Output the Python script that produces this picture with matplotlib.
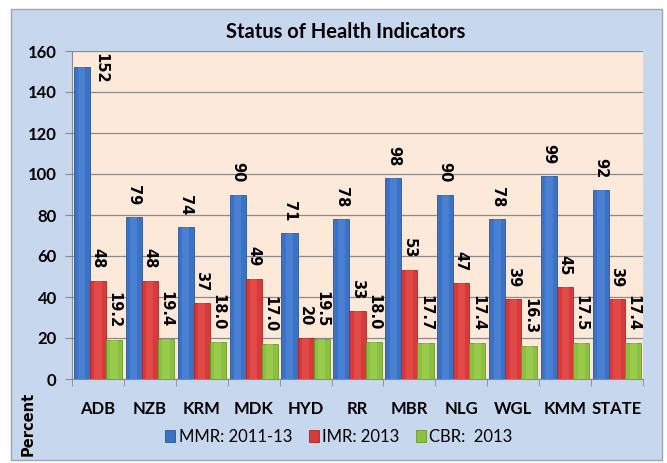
import numpy as np
import matplotlib
matplotlib.use('Agg')
import matplotlib.pyplot as plt

districts = ['ADB', 'NZB', 'KRM', 'MDK', 'HYD', 'RR', 'MBR', 'NLG', 'WGL', 'KMM', 'STATE']
mmr = [152, 79, 74, 90, 71, 78, 98, 90, 78, 99, 92]
imr = [48, 48, 37, 49, 20, 33, 53, 47, 39, 45, 39]
cbr = [19.2, 19.4, 18.0, 17.0, 19.5, 18.0, 17.7, 17.4, 16.3, 17.5, 17.4]
series_names = ['MMR: 2011-13', 'IMR: 2013', 'CBR:  2013']

colors = ['#3c72c6', '#d83a3a', '#8cc040']
edges = ['#2a5798', '#a82626', '#6a9a2a']
light = ['#5b92e0', '#ee5b5b', '#a8d85a']

fig = plt.figure(figsize=(6.67, 4.63), dpi=100)
fig.patch.set_facecolor('white')
# outer chart frame
frame = plt.Rectangle((11 / 667, 3 / 463), 651 / 667, 451 / 463, transform=fig.transFigure,
                      facecolor='#c7d8ee', edgecolor='#9aa6b4', lw=1.0, zorder=-5)
fig.patches.append(frame)

ax = fig.add_axes([72 / 667, 84 / 463, 571 / 667, 328 / 463])
ax.set_facecolor('#fde9da')

x = np.arange(len(districts))
w = 0.31
handles = []
for i, vals in enumerate([mmr, imr, cbr]):
    pos = x + (i - 1) * w
    b = ax.bar(pos, vals, w, color=colors[i], edgecolor=edges[i], lw=0.6, zorder=3,
               label=series_names[i])
    # lighter centre stripe to mimic the bevelled bars
    ax.bar(pos, vals, w * 0.45, color=light[i], alpha=0.45, lw=0, zorder=4)
    handles.append(b)
    for j, v in enumerate(vals):
        txt = f'{v:.1f}' if i == 2 else f'{v:d}'
        if v + 16 > 160:
            # no room above the bar: Excel pushes it beside the bar, at the top
            ax.annotate(txt, (pos[j] + 0.36, 160), xytext=(0, -1.5), textcoords='offset points',
                        rotation=-90, ha='center', va='top', fontsize=10.5,
                        fontweight='bold', family='DejaVu Sans', zorder=5)
        else:
            ax.annotate(txt, (pos[j], v), xytext=(0, 8.5), textcoords='offset points',
                        rotation=-90, ha='center', va='bottom', fontsize=10.5,
                        fontweight='bold', family='DejaVu Sans', zorder=5)

ax.set_xlim(-0.5, len(districts) - 0.5)
ax.set_ylim(0, 160)
ax.set_yticks(range(0, 161, 20))
ax.yaxis.grid(True, color='#8a8a8a', lw=0.9, zorder=1)
ax.set_axisbelow(True)
ax.set_xticks(x)
ax.set_xticklabels(districts, fontsize=12, fontweight='bold', family='Lato')
ax.set_xticks(np.arange(-0.5, len(districts)), minor=True)
ax.tick_params(axis='x', which='major', length=0, pad=16)
ax.tick_params(axis='x', which='minor', length=5, color='#8a8a8a')
ax.tick_params(axis='y', length=5, color='#8a8a8a', labelsize=12, pad=6)
for lab in ax.get_yticklabels():
    lab.set_fontweight('bold')
    lab.set_family('Lato')
for s in ['top', 'right']:
    ax.spines[s].set_visible(False)
for s in ['left', 'bottom']:
    ax.spines[s].set_color('#8a8a8a')

fig.text(346 / 667, 1 - 32 / 463, 'Status of Health Indicators', ha='center', va='center',
         fontsize=14.5, fontweight='bold', family='Lato')
fig.text(28 / 667, 1 - 424 / 463, 'Percent', rotation=90, ha='center', va='center',
         fontsize=10.5, fontweight='bold', family='DejaVu Sans')

leg = fig.legend(handles=handles, loc='center', bbox_to_anchor=(339 / 667, 1 - 437 / 463),
                 ncol=3, frameon=False, handlelength=0.6, handleheight=0.7,
                 handletextpad=0.2, columnspacing=1.0,
                 prop={'family': 'Lato', 'size': 12})

fig.savefig('out.png', dpi=100, facecolor=fig.get_facecolor())
